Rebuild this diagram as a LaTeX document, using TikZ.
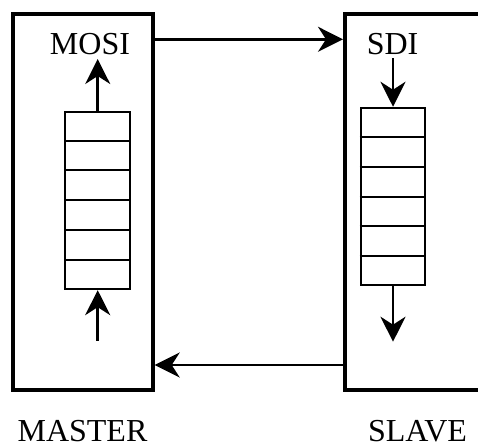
\documentclass[tikz,border=0pt]{standalone}
\usepackage{fontspec}
\setmainfont{Liberation Serif}
\usetikzlibrary{arrows.meta,calc}
\begin{document}
\begin{tikzpicture}[x=1pt,y=-1pt,
  devbox/.style={draw,line width=4pt,inner sep=0pt,minimum width=140pt,minimum height=376pt},
  regbox/.style={draw,line width=2pt,inner sep=0pt,minimum width=64.6pt,minimum height=177.5pt},
  conn/.style={line width=2.6pt,-{Stealth[length=25pt,width=25pt,inset=8pt]}},
  lbl/.style={font=\fontsize{32}{38}\selectfont,inner sep=0pt,anchor=base}]
\useasboundingbox (0,0) rectangle (478,445);
\clip (0,0) rectangle (478,445);
\node[devbox] (mbox) at (82.7,202) {};
\node[devbox] (sbox) at (415,202) {};
\node[regbox] (mreg) at (97.7,200.4) {};
\node[regbox] (sreg) at (393,196.5) {};
\foreach \i in {1,...,5}{
  \draw[line width=2pt] ($(mreg.north west)!\i/6!(mreg.south west)$) -- ($(mreg.north east)!\i/6!(mreg.south east)$);
  \draw[line width=2pt] ($(sreg.north west)!\i/6!(sreg.south west)$) -- ($(sreg.north east)!\i/6!(sreg.south east)$);
}
\node[lbl] (mosi) at (90,54) {MOSI};
\node[lbl] (sdi) at (392.6,54) {SDI};
\node[lbl] (master) at (82.5,441.5) {MASTER};
\node[lbl] (slave) at (417.5,441.5) {SLAVE};
\coordinate (mosiend) at (97.7,59);
\coordinate (minstart) at (97.7,340.7);
\coordinate (sdistart) at (393,58);
\coordinate (soutend) at (393,341.7);
\draw[conn] (mreg.north) -- (mosiend);
\draw[conn] (minstart) -- (mreg.south);
\draw[conn] (sdistart) -- (sreg.north);
\draw[conn] (sreg.south) -- (soutend);
\draw[conn] (mbox.east |- 0,39.3) -- (sbox.west |- 0,39.3);
\draw[conn] (sbox.west |- 0,365) -- (mbox.east |- 0,365);
\end{tikzpicture}
\end{document}
